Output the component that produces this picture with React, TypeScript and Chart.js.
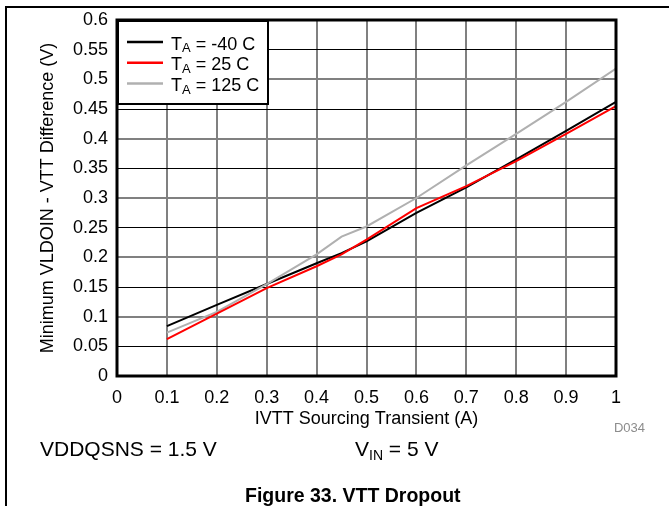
import React, { useEffect, useRef } from 'react';
import { Chart, registerables } from 'chart.js';

Chart.register(...registerables);

// ---- data ----
const currentA = [0.1, 0.2, 0.3, 0.4, 0.45, 0.5, 0.6, 0.7, 0.8, 0.9, 1.0];
const vMinus40C = [0.084, 0.12, 0.155, 0.19, 0.207, 0.227, 0.275, 0.318, 0.365, 0.413, 0.462];
const v25C = [0.062, 0.105, 0.148, 0.185, 0.205, 0.23, 0.283, 0.32, 0.362, 0.408, 0.455];
const v125C = [0.073, 0.108, 0.155, 0.205, 0.235, 0.252, 0.3, 0.355, 0.408, 0.462, 0.518];

const tempLabels = ['-40 C', '25 C', '125 C'];
const seriesColors = ['#000000', '#ff0000', '#b0b0b0'];

const xTicks = [0, 0.1, 0.2, 0.3, 0.4, 0.5, 0.6, 0.7, 0.8, 0.9, 1];
const yTicks = [0, 0.05, 0.1, 0.15, 0.2, 0.25, 0.3, 0.35, 0.4, 0.45, 0.5, 0.55, 0.6];

const xTitle = 'IVTT Sourcing Transient (A)';
const yTitle = 'Minimum VLDOIN - VTT Difference (V)';

const FONT = '"Liberation Sans", Arial, Helvetica, sans-serif';
const FS = 18;

const fmt = (v: number) => String(+Number(v).toFixed(2));

const framePlugin = {
  id: 'frameAndLegend',
  afterDraw(chart: any) {
    const { ctx, chartArea } = chart;
    ctx.save();
    // page frame lines
    ctx.fillStyle = '#000';
    ctx.fillRect(5, 6, 664, 2);
    ctx.fillRect(5, 6, 2, 500);
    // plot frame
    ctx.strokeStyle = '#000';
    ctx.lineWidth = 3;
    ctx.strokeRect(chartArea.left, chartArea.top, chartArea.right - chartArea.left, chartArea.bottom - chartArea.top);

    // legend box
    const L = chartArea.left, T = chartArea.top;
    const W = 152, H = 85;
    ctx.fillStyle = '#fff';
    ctx.fillRect(L, T, W, H);
    ctx.lineWidth = 2;
    ctx.strokeStyle = '#000';
    ctx.strokeRect(L + 1, T + 1, W - 2, H - 2);
    for (let i = 0; i < tempLabels.length; i++) {
      const ly = T + 22 + i * 20.8;
      ctx.strokeStyle = seriesColors[i];
      ctx.lineWidth = 2.5;
      ctx.beginPath();
      ctx.moveTo(L + 10, ly);
      ctx.lineTo(L + 46, ly);
      ctx.stroke();
      const by = ly + 7.5;
      ctx.fillStyle = '#000';
      ctx.textBaseline = 'alphabetic';
      ctx.textAlign = 'left';
      let x = L + 54;
      ctx.font = `${FS}px ${FONT}`;
      ctx.fillText('T', x, by);
      x += ctx.measureText('T').width;
      ctx.font = `13px ${FONT}`;
      ctx.fillText('A', x, by + 2.5);
      x += ctx.measureText('A').width;
      ctx.font = `${FS}px ${FONT}`;
      ctx.fillText(' = ' + tempLabels[i], x, by);
    }
    ctx.restore();
  },
};

export default function App() {
  const canvasRef = useRef<HTMLCanvasElement | null>(null);

  useEffect(() => {
    if (!canvasRef.current) return;
    const seriesValues = [vMinus40C, v25C, v125C];
    const drawOrder = [3, 1, 2];
    const chart = new Chart(canvasRef.current, {
      type: 'line',
      data: {
        datasets: seriesValues.map((vals, i) => ({
          label: 'TA = ' + tempLabels[i],
          data: currentA.map((x, j) => ({ x, y: vals[j] })),
          borderColor: seriesColors[i],
          backgroundColor: seriesColors[i],
          borderWidth: 2,
          pointRadius: 0,
          tension: 0,
          fill: false,
          order: drawOrder[i],
        })),
      },
      options: {
        responsive: false,
        animation: false,
        devicePixelRatio: 1,
        layout: { padding: { left: 0, top: 20, right: 53, bottom: 0 } },
        plugins: {
          legend: { display: false },
          tooltip: { enabled: false },
        },
        scales: {
          x: {
            type: 'linear',
            min: 0,
            max: 1,
            afterBuildTicks: (s: any) => {
              s.ticks = xTicks.map((v) => ({ value: v }));
            },
            afterFit: (s: any) => {
              s.height = 130;
            },
            grid: { color: '#808080', lineWidth: 2, drawTicks: false },
            border: { display: false },
            ticks: {
              padding: 11,
              color: '#000',
              maxRotation: 0,
              autoSkip: false,
              font: { family: FONT, size: FS },
              callback: (v: any) => fmt(v),
            },
            title: {
              display: true,
              text: xTitle,
              color: '#000',
              font: { family: FONT, size: FS },
              padding: { top: 0, bottom: 76 },
            },
          },
          y: {
            type: 'linear',
            min: 0,
            max: 0.6,
            afterBuildTicks: (s: any) => {
              s.ticks = yTicks.map((v) => ({ value: v }));
            },
            afterFit: (s: any) => {
              s.width = 117;
            },
            grid: {
              color: (c: any) => (c.index % 2 === 1 ? '#000000' : '#808080'),
              lineWidth: (c: any) => (c.index % 2 === 1 ? 1 : 2),
              drawTicks: false,
            },
            border: { display: false },
            ticks: {
              padding: 9,
              color: '#000',
              autoSkip: false,
              font: { family: FONT, size: FS },
              callback: (v: any) => fmt(v),
            },
            title: {
              display: true,
              text: yTitle,
              color: '#000',
              font: { family: FONT, size: FS },
              padding: { top: 37, bottom: 0 },
            },
          },
        },
      },
      plugins: [framePlugin],
    } as any);
    return () => chart.destroy();
  }, []);

  const base: React.CSSProperties = {
    position: 'absolute',
    fontFamily: FONT,
    color: '#000',
    whiteSpace: 'nowrap',
  };

  return (
    <div style={{ position: 'absolute', left: 0, top: 0, width: 669, height: 506, background: '#fff' }}>
      <canvas ref={canvasRef} width={669} height={506} style={{ display: 'block', width: 669, height: 506 }} />
      <div style={{ ...base, left: 40, top: 438, fontSize: 21, lineHeight: '21px' }}>VDDQSNS = 1.5 V</div>
      <div style={{ ...base, left: 355, top: 438, fontSize: 21, lineHeight: '21px' }}>
        V<sub style={{ fontSize: 14, verticalAlign: '-4px', lineHeight: 0 }}>IN</sub> = 5 V
      </div>
      <div style={{ ...base, right: 24, top: 421, fontSize: 13, lineHeight: '13px', color: '#8c8c8c' }}>D034</div>
      <div style={{ ...base, left: 245, top: 485, fontSize: 19.5, lineHeight: '20px', fontWeight: 'bold' }}>
        Figure 33. VTT Dropout
      </div>
    </div>
  );
}
